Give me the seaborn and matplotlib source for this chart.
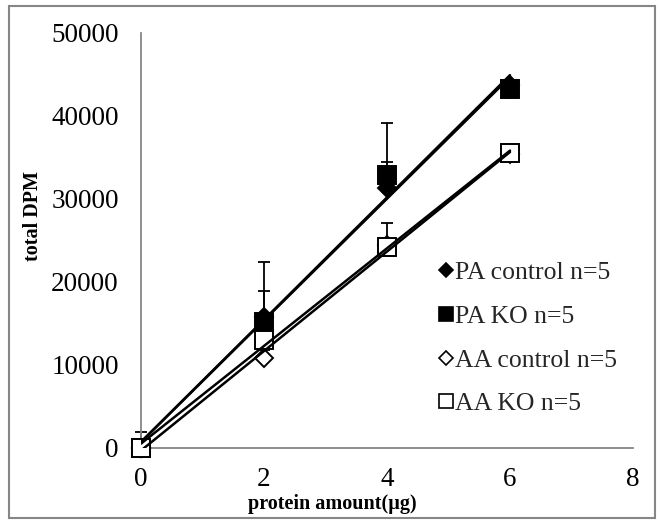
import numpy as np
import pandas as pd
import matplotlib
matplotlib.use("Agg")
import matplotlib.pyplot as plt
import seaborn as sns
from matplotlib.patches import Rectangle
from matplotlib.lines import Line2D

# ---- data ----
protein = [0, 2, 4, 6]
pa_control = [0, 15800, 31300, 43700]
pa_ko = [0, 15200, 32900, 43200]
aa_control = [0, 10800, 24500, 35400]
aa_ko = [0, 13000, 24200, 35500]
pa_control_err = [0, 3100, 3200, 300]
pa_ko_err = [1900, 7200, 6200, 300]
aa_control_err = [0, 1000, 2600, 300]
aa_ko_err = [0, 800, 900, 400]
series_labels = ["PA control n=5", "PA KO n=5", "AA control n=5", "AA KO n=5"]
y_ticks = [0, 10000, 20000, 30000, 40000, 50000]
x_ticks = [0, 2, 4, 6, 8]

sns.set_theme(style="white")
plt.rcParams["font.family"] = ["Liberation Serif", "DejaVu Serif"]

fig = plt.figure(figsize=(6.6, 5.22), dpi=100)
ax = fig.add_axes([0.2136, 0.1418, 0.7455, 0.795])

values = [pa_control, pa_ko, aa_control, aa_ko]
errs = [pa_control_err, pa_ko_err, aa_control_err, aa_ko_err]
markers = ["D", "s", "D", "s"]
msizes = [9.5, 13.5, 9.5, 13.5]
faces = ["black", "black", "white", "white"]

# trendlines
for vals in values:
    sns.regplot(x=protein, y=vals, ci=None, scatter=False, truncate=True,
                color="black", line_kws=dict(lw=1.8, zorder=4), ax=ax)

handles = []
for vals, err, m, ms, fc, lab in zip(values, errs, markers, msizes, faces, series_labels):
    yerr = np.vstack([np.zeros(len(err)), np.array(err)])
    ax.errorbar(protein, vals, yerr=yerr, fmt="none", ecolor="black",
                elinewidth=1.3, capsize=4.5, capthick=1.3, zorder=2, clip_on=False)
    ax.plot(protein, vals, linestyle="none", marker=m, markersize=ms,
            markerfacecolor=fc, markeredgecolor="black", markeredgewidth=1.4,
            zorder=3, clip_on=False)
    handles.append(Line2D([], [], linestyle="none", marker=m, markersize=ms * 0.78,
                          markerfacecolor=fc, markeredgecolor="black",
                          markeredgewidth=1.2, label=lab))

ax.set_xlim(0, 8)
ax.set_ylim(0, 50000)
ax.set_xticks(x_ticks)
ax.set_yticks(y_ticks)
ax.set_xticklabels([str(t) for t in x_ticks])
ax.set_yticklabels([str(t) for t in y_ticks])

gray = "#868686"
for s in ["top", "right"]:
    ax.spines[s].set_visible(False)
for s in ["left", "bottom"]:
    ax.spines[s].set_color(gray)
    ax.spines[s].set_linewidth(1.3)
ax.tick_params(axis="both", direction="out", length=6, width=1.2, color=gray,
               labelsize=19.5, labelcolor="black")
ax.tick_params(axis="y", pad=10)
ax.tick_params(axis="x", pad=8)
ax.grid(False)

ax.set_xlabel("protein amount(µg)", fontsize=14.5, fontweight="bold", color="black")
ax.set_ylabel("total DPM", fontsize=14.5, fontweight="bold", color="black")
ax.xaxis.set_label_coords(0.388, -0.112)
ax.yaxis.set_label_coords(-0.20, 0.56)

leg = ax.legend(handles=handles, loc="center left", bbox_to_anchor=(0.664, 0.352),
                bbox_transform=fig.transFigure, frameon=False, fontsize=18.5,
                handlelength=0.6, handletextpad=0.05, labelspacing=0.8,
                borderpad=0, borderaxespad=0)

fig.patches.append(Rectangle((0.0136, 0.0077), 0.979, 0.981, transform=fig.transFigure,
                             fill=False, edgecolor=gray, linewidth=1.5, zorder=0))

fig.savefig("out.png", dpi=100)
